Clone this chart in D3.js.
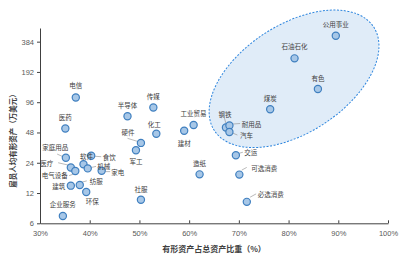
<!DOCTYPE html>
<html>
<head>
<meta charset="utf-8">
<script src="https://d3js.org/d3.v7.min.js"></script>
<style>
  body { margin: 0; background: #fff; }
  text { font-family: "Noto Sans CJK SC", "DejaVu Sans", sans-serif; }
</style>
</head>
<body>
<div id="chart"></div>
<script>
// industry data: tangible asset ratio (%) vs tangible assets per employee (10k USD)
const industries = ["公用事业", "石油石化", "有色", "煤炭", "钢铁", "耐用品", "汽车", "交运", "可选消费", "必选消费",
  "造纸", "工业贸易", "建材", "化工", "传媒", "半导体", "硬件", "军工", "社服", "电信",
  "医药", "家庭用品", "医疗", "电气设备", "软件", "食饮", "机械", "家电", "建筑", "纺服", "环保", "企业服务"];
const tangibleRatio = [89.5, 81.2, 85.9, 76.3, 67.4, 68.1, 68.1, 69.4, 70.1, 71.6,
  62.1, 60.9, 59.0, 53.4, 52.8, 47.6, 50.3, 49.3, 50.3, 37.2,
  35.1, 35.2, 36.2, 37.1, 38.75, 40.3, 39.6, 42.4, 36.2, 38.0, 39.3, 34.6];
const assetPerEmployee = [440, 262, 130, 81.6, 53.8, 56.3, 48.5, 28.5, 18.3, 9.8,
  18.4, 57, 50, 46.6, 85, 69.5, 37.8, 32, 10.3, 107,
  52.6, 26.9, 21.5, 19.9, 23.2, 28.2, 21.1, 20.0, 14.2, 14.4, 12.3, 7.1];
const xTicks = [30, 40, 50, 60, 70, 80, 90, 100];
const yTicks = [6, 12, 24, 48, 96, 192, 384];

// label placement (pixel offset from point) and optional leader line
const labelLayout = {
  "公用事业": [0, -12], "石油石化": [0, -12], "有色": [0, -11], "煤炭": [0, -11],
  "钢铁": [-1, -13, [-1.5, -9.5, 0, -4]], "耐用品": [22, -2, [3.7, -1.5, 10.7, -2]],
  "汽车": [17, 2.5, [2.4, 0.7, 8, 3]], "交运": [15, -3, [3.3, -2, 7, -3]],
  "可选消费": [25, -7, [2.4, -4.5, 7.4, -7.2]], "必选消费": [24, -8, [3.3, -4.7, 9.3, -8]],
  "造纸": [0, -11], "工业贸易": [0, -12], "建材": [0, 12], "化工": [-2, -10],
  "传媒": [0, -11.5], "半导体": [0, -11.5], "硬件": [-13, -11, [-13.4, -4.6, -2.4, -1.2]],
  "军工": [0, 11], "社服": [0, -11], "电信": [0, -12], "医药": [0, -11],
  "家庭用品": [-10.5, -11, [-8.7, -3.7, -2.7, -1]], "医疗": [-24, -5, [-12.7, -4.8, -2.7, -2.5]],
  "电气设备": [-20.5, 4.5, [-6.2, 4.7, -2.2, 3.3]], "软件": [3, -8],
  "食饮": [18, 1, [3, 0.5, 10, 1]], "机械": [16, -2.5, [2.3, -0.6, 8.3, -2]],
  "家电": [16, 1, [3, 0.9, 8.5, 0.9]], "建筑": [-12, 0], "纺服": [16.5, -4.5, [2, -2.9, 7, -4.2]],
  "环保": [6, 9.5], "企业服务": [0, -11.5]
};

const width = 404, height = 256;
const svg = d3.select("#chart").append("svg")
    .attr("width", width)
    .attr("height", height);

const x = d3.scaleLinear().domain([30, 100]).range([40, 388]);
const y = d3.scaleLog().base(2).domain([6, 525]).range([223.3, 28]);

const data = industries.map((name, i) => ({name, x: tangibleRatio[i], y: assetPerEmployee[i]}));

// highlighted group ellipse (resource / heavy-asset sectors)
const cx = x(81.1), cy = y(164);
svg.append("ellipse")
    .attr("transform", "translate(" + cx + "," + cy + ") rotate(-33)")
    .attr("rx", 95)
    .attr("ry", 54)
    .attr("fill", "#e0ecf8")
    .attr("stroke", "#2e86de")
    .attr("stroke-width", 1)
    .attr("stroke-dasharray", "2,1.5");

// axes
const xAxis = svg.append("g")
    .attr("transform", "translate(0," + y(6) + ")")
    .call(d3.axisBottom(x).tickValues(xTicks).tickFormat(d => d + "%")
      .tickSizeInner(-3).tickSizeOuter(0).tickPadding(7));
const yAxis = svg.append("g")
    .attr("transform", "translate(" + x(30) + ",0)")
    .call(d3.axisLeft(y).tickValues(yTicks).tickFormat(d3.format("d"))
      .tickSizeInner(3).tickSizeOuter(0).tickPadding(3));
[xAxis, yAxis].forEach(g => {
  g.select(".domain").attr("stroke", "#404040");
  g.selectAll(".tick line").attr("stroke", "#404040");
  g.selectAll(".tick text")
    .attr("fill", "#595959")
    .style("font-family", "Arial, 'Liberation Sans', sans-serif")
    .style("font-size", "7.5px");
});

// leader lines
svg.append("g").selectAll("line")
    .data(data.filter(d => labelLayout[d.name][2]))
    .enter().append("line")
    .attr("x1", d => x(d.x) + labelLayout[d.name][2][0])
    .attr("y1", d => y(d.y) + labelLayout[d.name][2][1])
    .attr("x2", d => x(d.x) + labelLayout[d.name][2][2])
    .attr("y2", d => y(d.y) + labelLayout[d.name][2][3])
    .attr("stroke", "#8c8c8c")
    .attr("stroke-width", 0.6);

// points
svg.append("g").selectAll("circle")
    .data(data)
    .enter().append("circle")
    .attr("cx", d => x(d.x))
    .attr("cy", d => y(d.y))
    .attr("r", 3.6)
    .attr("fill", "#a7c7e7")
    .attr("stroke", "#3f7fbf")
    .attr("stroke-width", 1.2);

// labels
svg.append("g").selectAll("text")
    .data(data)
    .enter().append("text")
    .attr("x", d => x(d.x) + labelLayout[d.name][0])
    .attr("y", d => y(d.y) + labelLayout[d.name][1])
    .attr("text-anchor", "middle")
    .attr("dominant-baseline", "central")
    .attr("fill", "#404040")
    .style("font-size", "6.5px")
    .text(d => d.name);

// axis titles
svg.append("text")
    .attr("x", 214)
    .attr("y", 248)
    .attr("text-anchor", "middle")
    .attr("dominant-baseline", "central")
    .attr("fill", "#404040")
    .style("font-size", "8px")
    .style("font-weight", "bold")
    .text("有形资产占总资产比重（%）");

svg.append("text")
    .attr("transform", "translate(12,139) rotate(-90)")
    .attr("text-anchor", "middle")
    .attr("dominant-baseline", "central")
    .attr("fill", "#404040")
    .style("font-size", "7.5px")
    .style("font-weight", "bold")
    .text("雇员人均有形资产（万美元）");
</script>
</body>
</html>
